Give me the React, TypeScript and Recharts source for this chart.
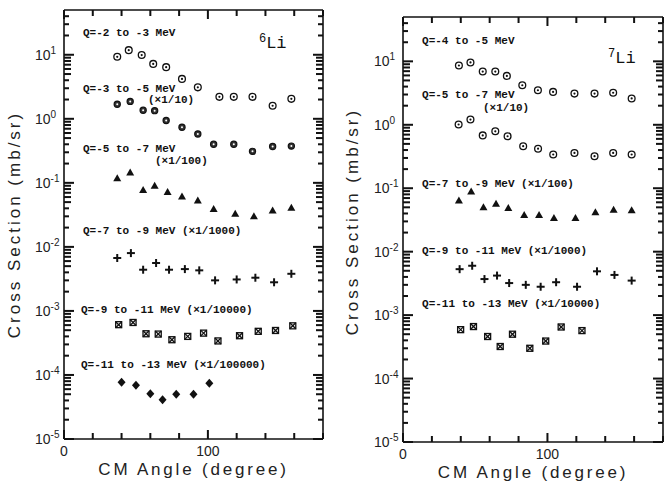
import { ScatterChart, Scatter, XAxis, YAxis, ReferenceDot, ReferenceLine } from "recharts";

// shared axes
const xTicks = [0, 20, 40, 60, 80, 100, 120, 140, 160, 180];
const xTickLabels = [0, 100];
const yDecades = [-5, -4, -3, -2, -1, 0, 1];
const yMinorSteps = [2, 3, 4, 5, 6, 7, 8, 9];
const yMax = 50;

// 6Li panel
const li6Q23Angle = [37, 45, 54, 62, 71, 82, 93, 108, 118, 131, 145, 158];
const li6Q23Value = [9.3, 11.8, 9.9, 7.2, 6.4, 4.2, 3.1, 2.2, 2.2, 2.2, 1.6, 2.05];
const li6Q35Angle = [37, 46, 55, 63, 71, 82, 93, 104, 118, 131, 145, 158];
const li6Q35Value = [1.69, 1.87, 1.36, 1.34, 0.94, 0.74, 0.58, 0.4, 0.4, 0.31, 0.37, 0.375];
const li6Q57Angle = [37, 46, 55, 63, 72, 82, 93, 104, 119, 132, 145, 158];
const li6Q57Value = [0.118, 0.145, 0.077, 0.09, 0.072, 0.061, 0.053, 0.039, 0.033, 0.03, 0.037, 0.041];
const li6Q79Angle = [37, 46.5, 55, 64, 73, 84, 94, 105, 120, 133, 146, 158];
const li6Q79Value = [0.0067, 0.008, 0.0044, 0.0056, 0.0044, 0.0045, 0.0043, 0.003, 0.0031, 0.0033, 0.0028, 0.0038];
const li6Q911Angle = [38, 48, 57, 65.5, 75, 86, 97, 107, 122, 135, 147, 159];
const li6Q911Value = [6.1e-4, 6.6e-4, 4.4e-4, 4.35e-4, 3.55e-4, 4.0e-4, 4.5e-4, 3.4e-4, 4.1e-4, 4.8e-4, 4.95e-4, 5.85e-4];
const li6Q1113Angle = [40, 50, 60, 68.5, 78, 90, 101];
const li6Q1113Value = [7.7e-5, 6.9e-5, 5.1e-5, 4.1e-5, 5.0e-5, 5.0e-5, 7.4e-5];

// 7Li panel
const li7Q45Angle = [38.7, 46.7, 55.2, 63.9, 71.9, 82.6, 93.4, 103.9, 118.7, 132.6, 145.5, 158.3];
const li7Q45Value = [8.6, 9.6, 6.9, 6.9, 5.9, 4.2, 3.5, 3.3, 3.1, 3.1, 3.2, 2.6];
const li7Q57Angle = [38.5, 46.7, 55.2, 63.9, 72.4, 83.2, 93.5, 104, 118.7, 132.6, 145.5, 158.3];
const li7Q57Value = [1.01, 1.21, 0.68, 0.79, 0.66, 0.46, 0.42, 0.34, 0.36, 0.32, 0.36, 0.34];
const li7Q79Angle = [38.7, 47.2, 55.7, 64.4, 72.9, 83.9, 94.2, 104.5, 119.4, 133.2, 145.8, 158.3];
const li7Q79Value = [0.064, 0.089, 0.05, 0.057, 0.049, 0.038, 0.038, 0.034, 0.034, 0.042, 0.046, 0.045];
const li7Q911Angle = [39.2, 47.9, 56.4, 65.1, 73.5, 85, 95.3, 106, 120.5, 134.3, 146.4, 158.3];
const li7Q911Value = [0.0053, 0.006, 0.0037, 0.0042, 0.0032, 0.003, 0.0028, 0.0033, 0.0028, 0.0049, 0.0043, 0.0035];
const li7Q1113Angle = [39.9, 48.8, 58.6, 67.3, 75.8, 87.8, 98.8, 109.5, 123.9];
const li7Q1113Value = [5.9e-4, 6.6e-4, 4.6e-4, 3.2e-4, 5.0e-4, 3.0e-4, 3.9e-4, 6.5e-4, 5.7e-4];

// text notes, placed in data units (angle, cross section)
const li6Notes = [
  { x: 13.2, y: 22.6, text: "Q=-2 to -3 MeV" },
  { x: 13.2, y: 3.0, text: "Q=-3 to -5 MeV" },
  { x: 58.4, y: 2.04, text: "(×1/10)" },
  { x: 13.2, y: 0.35, text: "Q=-5 to -7 MeV" },
  { x: 63.2, y: 0.227, text: "(×1/100)" },
  { x: 13.2, y: 0.0184, text: "Q=-7 to -9 MeV (×1/1000)" },
  { x: 11.8, y: 1.07e-3, text: "Q=-9 to -11 MeV (×1/10000)" },
  { x: 11.8, y: 1.48e-4, text: "Q=-11 to -13 MeV (×1/100000)" },
];
const li7Notes = [
  { x: 13.2, y: 21.7, text: "Q=-4 to -5 MeV" },
  { x: 13.2, y: 3.05, text: "Q=-5 to -7 MeV" },
  { x: 55.4, y: 1.91, text: "(×1/10)" },
  { x: 13.2, y: 0.121, text: "Q=-7 to -9 MeV (×1/100)" },
  { x: 13.2, y: 0.0106, text: "Q=-9 to -11 MeV (×1/1000)" },
  { x: 13.2, y: 1.55e-3, text: "Q=-11 to -13 MeV (×1/10000)" },
];

const yTicks: number[] = [];
yDecades.forEach((e) => {
  yTicks.push(Math.pow(10, e));
  if (e < 1) yMinorSteps.forEach((m) => yTicks.push(m * Math.pow(10, e)));
});
yMinorSteps.slice(0, 3).forEach((m) => yTicks.push(m * 10));

const INK = "#111";
const SANS = "'Liberation Sans', Arial, sans-serif";
const MONO = "'Liberation Mono', 'Courier New', monospace";

const isDecade = (v: number) => {
  const e = Math.log10(v);
  return Math.abs(e - Math.round(e)) < 1e-6;
};
const yLen = (v: number) => {
  if (isDecade(v)) return 10;
  const m = Math.round(v / Math.pow(10, Math.floor(Math.log10(v) + 1e-9)));
  return m >= 5 ? 7 : 5;
};
const xLen = (t: number) => (xTickLabels.includes(t) ? 9 : 6);

// markers
const RingDot = ({ cx, cy }: any) => (
  <g>
    <circle cx={cx} cy={cy} r={3.4} fill="#fff" stroke={INK} strokeWidth={1.3} />
    <circle cx={cx} cy={cy} r={1.1} fill={INK} />
  </g>
);
const DarkRing = ({ cx, cy }: any) => (
  <g>
    <circle cx={cx} cy={cy} r={3.1} fill="#333" stroke={INK} strokeWidth={1.2} />
    <circle cx={cx} cy={cy} r={1} fill="#fff" />
  </g>
);
const Tri = ({ cx, cy }: any) => (
  <polygon points={`${cx},${cy - 4} ${cx - 4},${cy + 3} ${cx + 4},${cy + 3}`} fill={INK} />
);
const Plus = ({ cx, cy }: any) => (
  <g stroke={INK} strokeWidth={2}>
    <line x1={cx - 4} x2={cx + 4} y1={cy} y2={cy} />
    <line x1={cx} x2={cx} y1={cy - 4} y2={cy + 4} />
  </g>
);
const BoxX = ({ cx, cy }: any) => (
  <g stroke={INK} strokeWidth={1.3}>
    <rect x={cx - 3} y={cy - 3} width={6} height={6} fill="#fff" />
    <line x1={cx - 3} x2={cx + 3} y1={cy - 3} y2={cy + 3} />
    <line x1={cx - 3} x2={cx + 3} y1={cy + 3} y2={cy - 3} />
  </g>
);
const Diamond = ({ cx, cy }: any) => (
  <polygon points={`${cx},${cy - 4.5} ${cx + 4},${cy} ${cx},${cy + 4.5} ${cx - 4},${cy}`} fill={INK} />
);

// inward tick bar starting at (cx, cy)
const Bar = ({ cx, cy, dx, dy }: any) => {
  const w = dx !== 0 ? Math.abs(dx) : 2;
  const h = dy !== 0 ? Math.abs(dy) : 2;
  const x = dx < 0 ? cx + dx : dx > 0 ? cx : cx - 1;
  const y = dy < 0 ? cy + dy : dy > 0 ? cy : cy - 1;
  return <rect x={x} y={y} width={w} height={h} fill={INK} />;
};

// left axis: decade labels and inward marks
const LeftTick = ({ x, y, payload }: any) => (
  <g>
    <Bar cx={x} cy={y} dx={yLen(payload.value)} dy={0} />
    {isDecade(payload.value) && (
      <text x={x - 29} y={y} dy="0.36em" fontSize={14} fontFamily={SANS} fill="#222">
        10
        <tspan dy={-6} fontSize={10}>
          {Math.round(Math.log10(payload.value))}
        </tspan>
      </text>
    )}
  </g>
);
// bottom axis: 0 and 100 labels and inward marks
const BottomTick = ({ x, y, payload }: any) => (
  <g>
    <Bar cx={x} cy={y} dx={0} dy={-xLen(payload.value)} />
    {xTickLabels.includes(payload.value) && (
      <text x={x} y={y + 12} dy="0.36em" textAnchor="middle" fontSize={14} fontFamily={SANS} fill="#222">
        {payload.value}
      </text>
    )}
  </g>
);

const Note = ({ cx, cy, text }: any) => (
  <text x={cx} y={cy} dy="0.35em" fontSize={11} fontFamily={MONO} fontWeight="bold" fill={INK}>
    {text}
  </text>
);
const Isotope = ({ cx, cy, mass }: any) => (
  <text x={cx} y={cy} dy="0.35em" fontFamily={MONO} fill={INK}>
    <tspan fontSize={12} dy={-6}>{mass}</tspan>
    <tspan fontSize={17} dy={6}>Li</tspan>
  </text>
);

const zip = (a: number[], v: number[]) => a.map((x, i) => ({ x, y: v[i] }));

function Panel({ left, width, yAxisW, topH, bottomH, rightPad, series, notes, mass, iso, titleX, titleShift }: any) {
  const lo = yTicks[0];
  const mark = (key: string, x: number, y: number, dx: number, dy: number) => (
    <ReferenceDot
      key={key}
      xAxisId="b"
      yAxisId="l"
      x={x}
      y={y}
      r={1}
      ifOverflow="visible"
      shape={(p: any) => <Bar cx={p.cx} cy={p.cy} dx={dx} dy={dy} />}
    />
  );
  return (
    <div style={{ position: "absolute", left, top: 0 }}>
      <ScatterChart width={width} height={486} margin={{ top: topH, right: rightPad, bottom: 0, left: 0 }}>
        <XAxis
          xAxisId="b"
          type="number"
          dataKey="x"
          domain={[0, 180]}
          ticks={xTicks}
          interval={0}
          allowDataOverflow
          height={bottomH}
          tickSize={0}
          tickMargin={0}
          tickLine={false}
          tick={<BottomTick />}
          axisLine={{ stroke: INK, strokeWidth: 1.6 }}
          label={(p: any) => (
            <text
              x={p.viewBox.x + p.viewBox.width / 2}
              y={p.viewBox.y + 36}
              textAnchor="middle"
              fontSize={17}
              letterSpacing={2.8}
              fontFamily={SANS}
              fill="#222"
            >
              CM Angle (degree)
            </text>
          )}
        />
        <YAxis
          yAxisId="l"
          type="number"
          dataKey="y"
          scale="log"
          domain={[lo, yMax]}
          ticks={yTicks}
          interval={0}
          allowDataOverflow
          width={yAxisW}
          tickSize={0}
          tickMargin={0}
          tickLine={false}
          tick={<LeftTick />}
          axisLine={{ stroke: INK, strokeWidth: 1.6 }}
          label={(p: any) => (
            <text
              x={p.viewBox.x + titleX}
              y={p.viewBox.y + p.viewBox.height / 2 + titleShift}
              transform={`rotate(-90 ${p.viewBox.x + titleX} ${p.viewBox.y + p.viewBox.height / 2 + titleShift})`}
              textAnchor="middle"
              dy="0.35em"
              fontSize={17}
              letterSpacing={3}
              fontFamily={SANS}
              fill="#222"
            >
              Cross Section (mb/sr)
            </text>
          )}
        />
        {/* frame: top and right edges with their inward marks */}
        <ReferenceLine xAxisId="b" yAxisId="l" y={yMax} stroke={INK} strokeWidth={1.6} ifOverflow="visible" />
        <ReferenceLine xAxisId="b" yAxisId="l" x={180} stroke={INK} strokeWidth={1.6} ifOverflow="visible" />
        {yTicks.map((v) => mark(`r${v}`, 180, v, -yLen(v), 0))}
        {xTicks.map((t) => mark(`t${t}`, t, yMax, 0, xLen(t)))}
        {series.map((s: any, i: number) => (
          <Scatter
            key={i}
            xAxisId="b"
            yAxisId="l"
            data={zip(s.angle, s.value)}
            isAnimationActive={false}
            shape={(p: any) => <s.Mark cx={p.cx} cy={p.cy} />}
          />
        ))}
        {notes.map((n: any, i: number) => (
          <ReferenceDot
            key={i}
            xAxisId="b"
            yAxisId="l"
            x={n.x}
            y={n.y}
            r={1}
            ifOverflow="visible"
            shape={(p: any) => <Note cx={p.cx} cy={p.cy} text={n.text} />}
          />
        ))}
        <ReferenceDot
          xAxisId="b"
          yAxisId="l"
          x={iso.x}
          y={iso.y}
          r={1}
          ifOverflow="visible"
          shape={(p: any) => <Isotope cx={p.cx} cy={p.cy} mass={mass} />}
        />
      </ScatterChart>
    </div>
  );
}

export default function App() {
  return (
    <div style={{ position: "absolute", left: 0, top: 0, width: 665, height: 486, background: "#fff" }}>
      <Panel
        left={0}
        width={335}
        yAxisW={64}
        topH={10}
        bottomH={47}
        rightPad={12}
        mass="6"
        iso={{ x: 135.5, y: 12.8 }}
        titleX={14}
        titleShift={0}
        notes={li6Notes}
        series={[
          { angle: li6Q23Angle, value: li6Q23Value, Mark: RingDot },
          { angle: li6Q35Angle, value: li6Q35Value, Mark: DarkRing },
          { angle: li6Q57Angle, value: li6Q57Value, Mark: Tri },
          { angle: li6Q79Angle, value: li6Q79Value, Mark: Plus },
          { angle: li6Q911Angle, value: li6Q911Value, Mark: BoxX },
          { angle: li6Q1113Angle, value: li6Q1113Value, Mark: Diamond },
        ]}
      />
      <Panel
        left={335}
        width={330}
        yAxisW={68}
        topH={17}
        bottomH={44}
        rightPad={2}
        mass="7"
        iso={{ x: 142, y: 9.4 }}
        titleX={17}
        titleShift={-8}
        notes={li7Notes}
        series={[
          { angle: li7Q45Angle, value: li7Q45Value, Mark: RingDot },
          { angle: li7Q57Angle, value: li7Q57Value, Mark: RingDot },
          { angle: li7Q79Angle, value: li7Q79Value, Mark: Tri },
          { angle: li7Q911Angle, value: li7Q911Value, Mark: Plus },
          { angle: li7Q1113Angle, value: li7Q1113Value, Mark: BoxX },
        ]}
      />
    </div>
  );
}
